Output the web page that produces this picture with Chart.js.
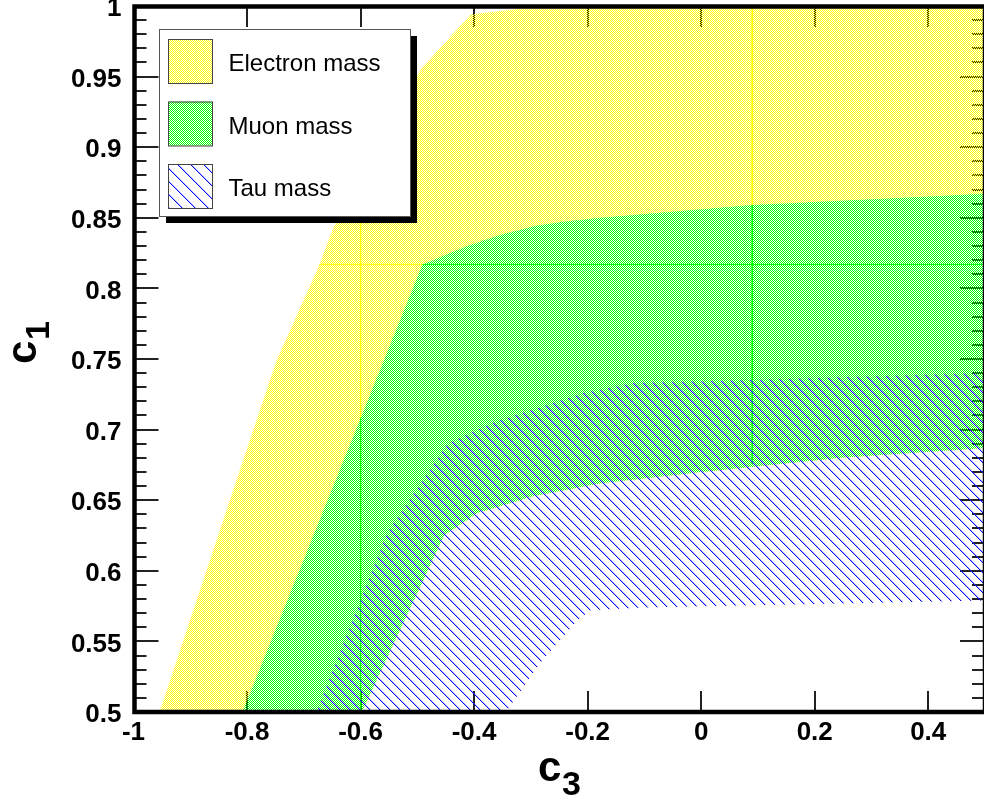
<!DOCTYPE html>
<html>
<head>
<meta charset="utf-8">
<script src="https://cdn.jsdelivr.net/npm/chart.js@4.4.0/dist/chart.umd.min.js"></script>
<style>
  html, body { margin: 0; padding: 0; background: #fff; overflow: hidden; }
  #wrap { width: 990px; height: 802px; }
</style>
</head>
<body>
<div id="wrap"><canvas id="c"></canvas></div>
<script>
// region boundaries, [c3, c1] pairs
const electronUpper = [[-0.954, 0.5], [-0.813, 0.671], [-0.748, 0.749], [-0.673, 0.816], [-0.648, 0.843],
  [-0.494, 0.955], [-0.406, 0.994], [-0.32, 0.998], [0.5, 1.0]];
const muonUpper = [[-0.808, 0.5], [-0.491, 0.817], [-0.412, 0.830], [-0.353, 0.838], [-0.295, 0.844],
  [-0.248, 0.847], [-0.177, 0.850], [0.0, 0.856], [0.09, 0.859], [0.5, 0.867]];
const muonLower = [[-0.598, 0.5], [-0.453, 0.625], [-0.394, 0.641], [-0.295, 0.653], [-0.177, 0.662],
  [0.0, 0.670], [0.246, 0.680], [0.5, 0.687]];
const tauUpper = [[-0.678, 0.5], [-0.553, 0.627], [-0.447, 0.690], [-0.366, 0.705], [-0.207, 0.726],
  [-0.119, 0.733], [0.0, 0.734], [0.5, 0.740]];
const tauLower = [[-0.344, 0.5], [-0.283, 0.535], [-0.218, 0.565], [-0.195, 0.572], [-0.101, 0.574], [0.5, 0.579]];

// thin seam lines left by the fill inside the bands
const electronSeams = [
  [[-0.673, 0.817], [-0.491, 0.817]],
  [[-0.6, 0.878], [-0.6, 0.708]],
  [[0.09, 1.0], [0.09, 0.859]]
];
const muonSeams = [
  [[-0.491, 0.817], [0.5, 0.817]],
  [[-0.6, 0.708], [-0.6, 0.5]],
  [[0.09, 0.859], [0.09, 0.676]]
];

const seriesNames = ['Electron mass', 'Muon mass', 'Tau mass'];

const xTicks = [-1, -0.8, -0.6, -0.4, -0.2, 0, 0.2, 0.4];
const xTickLabels = ['-1', '-0.8', '-0.6', '-0.4', '-0.2', '0', '0.2', '0.4'];
const yTicks = [0.5, 0.55, 0.6, 0.65, 0.7, 0.75, 0.8, 0.85, 0.9, 0.95, 1];
const yTickLabels = ['0.5', '0.55', '0.6', '0.65', '0.7', '0.75', '0.8', '0.85', '0.9', '0.95', '1'];

const canvas = document.getElementById('c');
const mainCtx = canvas.getContext('2d');

// 1px checkerboard, like ROOT fill style 3001
function checker(color) {
  const c = document.createElement('canvas');
  c.width = c.height = 2;
  const g = c.getContext('2d');
  g.fillStyle = color;
  g.fillRect(0, 0, 1, 1);
  g.fillRect(1, 1, 1, 1);
  return mainCtx.createPattern(c, 'repeat');
}

// "\" hatching
function hatch(color, step) {
  const c = document.createElement('canvas');
  c.width = c.height = step;
  const g = c.getContext('2d');
  for (let i = 0; i < step; i++) {
    g.fillStyle = color;
    g.fillRect(i, i, 1, 1);
    g.fillStyle = 'rgba(60,60,255,0.35)';
    g.fillRect((i + 1) % step, i, 1, 1);
  }
  return mainCtx.createPattern(c, 'repeat');
}

const yellowFill = checker('#ffff00');
const greenFill = checker('#00ff00');
const blueHatch = hatch('#0000ff', 10);
const legendHatch = hatch('#0000ff', 13);

const toPts = arr => arr.map(([x, y]) => ({x, y}));
const band = (upper, lower) => toPts(upper.concat(lower.slice().reverse()));

function bandSet(label, data, pattern, order) {
  return {
    label: label, data: data, showLine: true, fill: 'shape',
    backgroundColor: pattern, borderWidth: 0, pointRadius: 0, order: order
  };
}
function seamSet(seg, color, order) {
  return {
    label: '', data: toPts(seg), showLine: true, fill: false,
    borderColor: color, borderWidth: 1, pointRadius: 0, order: order
  };
}

const datasets = [
  bandSet(seriesNames[0], band(electronUpper, muonLower), yellowFill, 6),
  ...electronSeams.map(s => seamSet(s, '#ffff00', 5)),
  bandSet(seriesNames[1], band(muonUpper, muonLower), greenFill, 4),
  ...muonSeams.map(s => seamSet(s, '#00ff00', 3)),
  bandSet(seriesNames[2], band(tauUpper, tauLower), blueHatch, 2)
];

const tickFont = {family: "'Liberation Sans', Arial, sans-serif", weight: 'bold', size: 26};

// ROOT style frame: ticks inside, drawn under the fills, thick box on top
const rootFrame = {
  id: 'rootFrame',
  beforeDatasetsDraw(chart) {
    const {ctx, chartArea: a, scales: {x, y}} = chart;
    ctx.save();
    ctx.strokeStyle = '#222';
    ctx.lineWidth = 2;
    ctx.beginPath();
    xTicks.forEach(v => {
      const px = Math.round(x.getPixelForValue(v));
      ctx.moveTo(px, a.bottom); ctx.lineTo(px, a.bottom - 21);
      ctx.moveTo(px, a.top); ctx.lineTo(px, a.top + 21);
    });
    for (let k = 0; k <= 50; k++) {
      const py = Math.round(y.getPixelForValue(0.5 + k * 0.01));
      const len = k % 5 === 0 ? 25 : 13;
      ctx.moveTo(a.left, py); ctx.lineTo(a.left + len, py);
      ctx.moveTo(a.right, py); ctx.lineTo(a.right - len, py);
    }
    ctx.stroke();
    ctx.restore();
  },
  afterDatasetsDraw(chart) {
    const {ctx, chartArea: a} = chart;
    ctx.save();
    ctx.strokeStyle = '#000';
    ctx.lineWidth = 4.5;
    ctx.strokeRect(a.left + 1, a.top + 0.5, a.right - a.left - 1, a.bottom - a.top - 0.5);
    ctx.restore();
  },
  afterDraw(chart) {
    const {ctx} = chart;
    const sets = chart.data.datasets.filter(d => seriesNames.includes(d.label));
    ctx.save();
    // legend box with shadow
    ctx.fillStyle = '#000';
    ctx.fillRect(166, 36, 251, 187);
    ctx.fillStyle = '#fff';
    ctx.fillRect(159, 29, 252, 188);
    ctx.strokeStyle = '#555';
    ctx.lineWidth = 1;
    ctx.strokeRect(159.5, 29.5, 251, 187);
    ctx.font = "24px 'Liberation Sans', Arial, sans-serif";
    ctx.textBaseline = 'alphabetic';
    sets.forEach((d, i) => {
      const top = 39 + i * 62.5;
      ctx.fillStyle = d.backgroundColor === blueHatch ? legendHatch : d.backgroundColor;
      ctx.fillRect(168, top, 44, 44);
      ctx.strokeStyle = '#444';
      ctx.strokeRect(168.5, top + 0.5, 44, 44);
      ctx.fillStyle = '#000';
      ctx.fillText(d.label, 228.5, top + 32);
    });
    // axis titles c3 and c1
    ctx.fillStyle = '#000';
    ctx.font = "bold 42px 'Liberation Sans', Arial, sans-serif";
    ctx.fillText('c', 538, 781);
    ctx.font = "bold 34px 'Liberation Sans', Arial, sans-serif";
    ctx.fillText('3', 562, 795);
    ctx.translate(36, 364);
    ctx.rotate(-Math.PI / 2);
    ctx.font = "bold 42px 'Liberation Sans', Arial, sans-serif";
    ctx.fillText('c', 0, 0);
    ctx.font = "bold 34px 'Liberation Sans', Arial, sans-serif";
    ctx.fillText('1', 24, 13);
    ctx.restore();
  }
};

new Chart(canvas, {
  type: 'scatter',
  data: {datasets: datasets},
  options: {
    responsive: true,
    maintainAspectRatio: false,
    animation: false,
    events: [],
    layout: {padding: {left: 0, right: 5, top: 6, bottom: 0}},
    plugins: {legend: {display: false}, tooltip: {enabled: false}},
    scales: {
      x: {
        type: 'linear', min: -1, max: 0.5,
        grid: {display: false, drawTicks: false},
        border: {display: false},
        afterBuildTicks: s => { s.ticks = xTicks.map(v => ({value: v})); },
        afterFit: s => { s.height = 90; s.paddingLeft = 0; s.paddingRight = 0; },
        ticks: {
          callback: (v, i) => xTickLabels[i],
          font: tickFont, color: '#000', padding: 5, maxRotation: 0, autoSkip: false
        }
      },
      y: {
        type: 'linear', min: 0.5, max: 1,
        grid: {display: false, drawTicks: false},
        border: {display: false},
        afterBuildTicks: s => { s.ticks = yTicks.map(v => ({value: v})); },
        afterFit: s => { s.width = 133.5; s.paddingTop = 0; s.paddingBottom = 0; },
        ticks: {
          callback: (v, i) => yTickLabels[i],
          font: tickFont, color: '#000', padding: 12, labelOffset: 3, autoSkip: false
        }
      }
    }
  },
  plugins: [rootFrame]
});
</script>
</body>
</html>
